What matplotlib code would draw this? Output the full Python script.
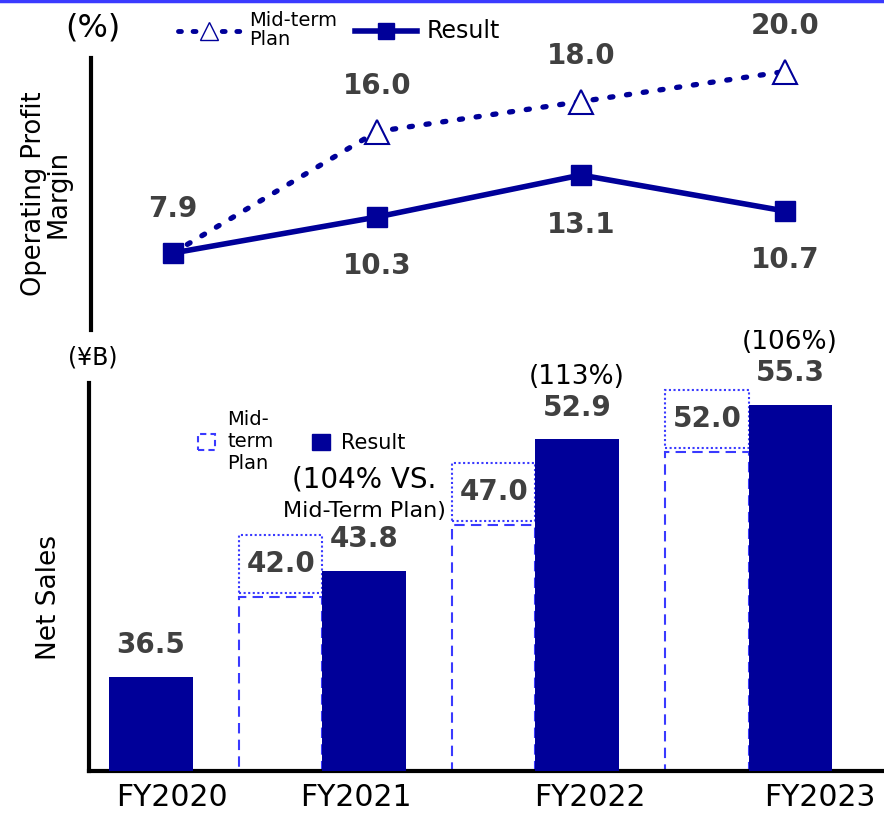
import matplotlib.pyplot as plt
from matplotlib.lines import Line2D
from matplotlib.patches import Rectangle
import numpy as np

# data
years = ['FY2020', 'FY2021', 'FY2022', 'FY2023']
sales_result = [36.5, 43.8, 52.9, 55.3]
sales_plan = [None, 42.0, 47.0, 52.0]
sales_pct = [None, '104%', '113%', '106%']
margin_result = [7.9, 10.3, 13.1, 10.7]
margin_plan = [7.9, 16.0, 18.0, 20.0]

NAVY = '#000099'
BLUE = '#3a3aff'
GRAY = '#404040'

fig = plt.figure(figsize=(8.84, 8.16), dpi=100)
W, H = 884, 816

def px_axes(x0, y0, x1, y1):
    # pixel box (top-left origin) -> figure axes
    return fig.add_axes([x0 / W, 1 - y1 / H, (x1 - x0) / W, (y1 - y0) / H])

# ---------- bottom panel: net sales ----------
ax = px_axes(89, 383, 884, 771)
idx = np.arange(len(years))
bw = 0.39
ax.set_xlim(-0.291, 3.441)
ax.set_ylim(30, 56.8)

ax.bar(idx, sales_result, width=bw, color=NAVY, zorder=3)
for i, (r, p) in enumerate(zip(sales_result, sales_plan)):
    ax.annotate(f'{r:.1f}', (i, r), xytext=(0, 23), textcoords='offset points',
                ha='center', va='center', fontsize=20, fontweight='bold', color=GRAY,
                annotation_clip=False)
    if p is None:
        continue
    xp = i - bw
    ax.bar(xp, p, width=bw, facecolor='white', edgecolor=BLUE, linewidth=1.5,
           linestyle=(0, (5, 3)), zorder=2)
    ax.add_patch(Rectangle((xp - bw / 2, p + 0.3), bw, 4.0, facecolor='none', clip_on=False,
                           edgecolor=BLUE, linewidth=1.5, linestyle=(0, (1, 1.2)), zorder=2))
    ax.text(xp, p + 2.3, f'{p:.1f}', ha='center', va='center', fontsize=20,
            fontweight='bold', color=GRAY)

for i, pct in enumerate(sales_pct):
    if pct is None:
        continue
    if i == 1:
        ax.annotate(f'({pct} VS.', (i, sales_result[i]), xytext=(0, 66), textcoords='offset points',
                    ha='center', va='center', fontsize=20, color='black', annotation_clip=False)
        ax.annotate('Mid-Term Plan)', (i, sales_result[i]), xytext=(0, 43), textcoords='offset points',
                    ha='center', va='center', fontsize=16, color='black', annotation_clip=False)
    else:
        ax.annotate(f'({pct})', (i, sales_result[i]), xytext=(0, 45), textcoords='offset points',
                    ha='center', va='center', fontsize=19, color='black', annotation_clip=False)

for s in ['top', 'right']:
    ax.spines[s].set_visible(False)
ax.spines['left'].set_linewidth(3)
ax.spines['bottom'].set_linewidth(3)
ax.set_yticks([])
tick_pos = [0.1, 0.96, 2.06, 3.14]
ax.set_xticks(tick_pos)
ax.set_xticklabels(years, fontsize=21.5)
ax.tick_params(axis='x', length=0, pad=9)
ax.set_ylabel('Net Sales', fontsize=19)
ax.yaxis.set_label_coords(-0.034, 0.448)

leg_b = ax.legend(handles=[
    Rectangle((0, 0), 1, 1, facecolor='white', edgecolor=BLUE, linestyle=(0, (3, 2)), linewidth=1.5),
    Rectangle((0, 0), 1, 1, facecolor=NAVY, edgecolor=NAVY)],
    labels=['Mid-\nterm\nPlan', 'Result'], ncol=2, frameon=False, fontsize=14,
    handlelength=0.9, handleheight=0.9, handletextpad=0.6, columnspacing=2.0,
    loc='center left', bbox_to_anchor=(0.115, 0.85))
leg_b.get_texts()[1].set_fontsize(15)

fig.text(68 / W, 1 - 357 / H, '(¥B)', fontsize=17, va='center', ha='left')

# ---------- top panel: operating profit margin ----------
ax2 = px_axes(91, 58, 884, 330)
ax2.set_xlim(-0.401, 3.485)
ax2.set_ylim(2.77, 20.9)
ax2.plot(idx, margin_plan, color=NAVY, linestyle=(0, (0.6, 2.6)), linewidth=3.8,
         dash_capstyle='round', zorder=2)
ax2.plot(idx[1:], margin_plan[1:], linestyle='none', marker='^', markersize=17,
         markerfacecolor='white', markeredgecolor=NAVY, markeredgewidth=1.5, zorder=3)
ax2.plot(idx, margin_result, color=NAVY, linewidth=4, marker='s', markersize=15, zorder=4)

plan_off = [None, 33, 33, 33]
res_off = [32, -35, -36, -35]
for i in idx:
    ax2.annotate(f'{margin_result[i]:.1f}', (i, margin_result[i]), xytext=(0, res_off[i]),
                 textcoords='offset points', ha='center', va='center', fontsize=20,
                 fontweight='bold', color=GRAY, annotation_clip=False)
    if plan_off[i] is not None:
        ax2.annotate(f'{margin_plan[i]:.1f}', (i, margin_plan[i]), xytext=(0, plan_off[i]),
                     textcoords='offset points', ha='center', va='center', fontsize=20,
                     fontweight='bold', color=GRAY, annotation_clip=False)

for s in ['top', 'right', 'bottom']:
    ax2.spines[s].set_visible(False)
ax2.spines['left'].set_linewidth(3)
ax2.set_xticks([])
ax2.set_yticks([])
ax2.set_ylabel('Operating Profit\nMargin', fontsize=18.5, linespacing=0.95)
ax2.yaxis.set_label_coords(-0.024, 0.5)

fig.text(65 / W, 1 - 28 / H, '(%)', fontsize=23, va='center', ha='left')
leg_t = fig.legend(handles=[
    Line2D([], [], color=NAVY, linestyle=(0, (0.6, 2.4)), linewidth=3.5, marker='^', markersize=13,
           markerfacecolor='white', markeredgecolor=NAVY, dash_capstyle='round'),
    Line2D([], [], color=NAVY, linewidth=4, marker='s', markersize=12)],
    labels=['Mid-term\nPlan', 'Result'], ncol=2, frameon=False, fontsize=14,
    handlelength=3.2, handletextpad=0.5, columnspacing=0.9,
    loc='center left', bbox_to_anchor=(160 / W, 1 - 30 / H))
leg_t.get_texts()[1].set_fontsize(17)
leg_t.get_texts()[0].set_linespacing(0.95)

fig.add_artist(Line2D([0, 1], [0.999, 0.999], color=BLUE, linewidth=2.5,
                      transform=fig.transFigure))

fig.savefig('out.png', dpi=100)
